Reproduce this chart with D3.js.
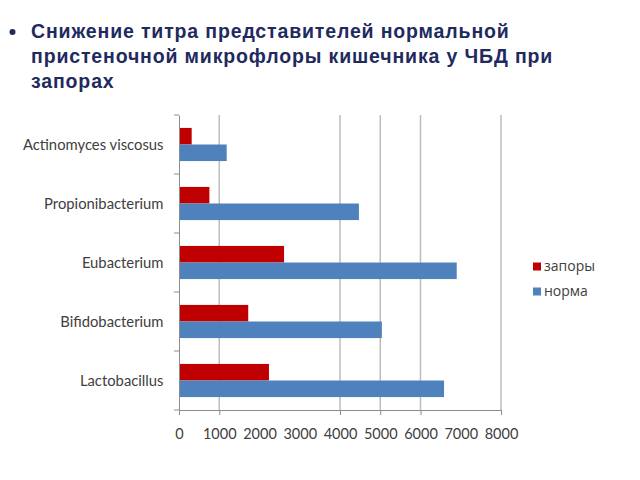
<!DOCTYPE html>
<html><head><meta charset="utf-8">
<script src="https://cdn.jsdelivr.net/npm/d3@7"></script>
<style>body{margin:0;background:#fff}svg{display:block}</style>
</head><body>
<svg id="c" width="640" height="480"></svg>
<script>
const categories = ["Actinomyces viscosus","Propionibacterium","Eubacterium","Bifidobacterium","Lactobacillus"];
const seriesNames = ["запоры","норма"];
const zapory = [315, 755, 2610, 1720, 2235];
const norma = [1185, 4470, 6900, 5040, 6585];
const xTicks = [0,1000,2000,3000,4000,5000,6000,7000,8000];
const gridTicks = [1000,4000,5000,6000,8000];
const titleLines = ["Снижение титра представителей нормальной","пристеночной микрофлоры кишечника у ЧБД при","запорах"];
const colors = ["#C00000","#4F81BD"];

(function(){
const svg = d3.select("#c");
const pl = 179, pr = 501, pt = 115, pb = 410;
const x = d3.scaleLinear().domain([0,8000]).range([pl,pr]);
const y = d3.scaleBand().domain(categories).range([pt,pb]);
const inner = d3.scaleBand().domain(seriesNames).range([0,y.bandwidth()]).paddingInner(0).paddingOuter(0.78);

// title
svg.append("circle").attr("cx",12.5).attr("cy",32).attr("r",3).attr("fill","#1F2A5E");
svg.selectAll("text.title").data(titleLines).enter().append("text")
  .attr("x",31).attr("y",(d,i)=>38+i*25)
  .attr("font-family","Liberation Sans, Arial, sans-serif").attr("font-weight","bold")
  .attr("font-size",19.5).attr("letter-spacing",0.85).attr("fill","#1F2A5E").text(d=>d);

// grid
svg.append("g").selectAll("line").data(gridTicks).enter().append("line")
  .attr("x1",d=>x(d)).attr("x2",d=>x(d)).attr("y1",pt).attr("y2",pb)
  .attr("stroke","#BDBDBD").attr("stroke-width",1.5);

// bars
const data = categories.map((c,i)=>({c, vals:[zapory[i],norma[i]]}));
const g = svg.append("g");
data.forEach(d=>{
  d.vals.forEach((v,j)=>{
    g.append("rect").attr("x",x(0)).attr("y",y(d.c)+inner(seriesNames[j]))
      .attr("width",x(v)-x(0)).attr("height",inner.bandwidth()).attr("fill",colors[j]);
  });
});

// x axis
const xa = svg.append("g").attr("transform",`translate(0,${pb})`)
  .call(d3.axisBottom(x).tickValues(xTicks).tickSize(5).tickFormat(d3.format("d")));
xa.select(".domain").attr("stroke","#8C8C8C");
xa.selectAll(".tick line").attr("stroke","#8C8C8C");
xa.selectAll(".tick text").attr("font-family","Lato, sans-serif").attr("font-size",14.5).attr("fill","#404040").attr("dy","1.45em");
xa.selectAll(".tick").filter(d=>!gridTicks.includes(d) && d!==0).select("line").remove();

// y axis
const ya = svg.append("g").attr("transform",`translate(${pl},0)`)
  .call(d3.axisLeft(y).tickSize(0).tickPadding(15.5));
ya.select(".domain").attr("stroke","#8C8C8C");
ya.selectAll(".tick text").attr("font-family","Lato, sans-serif").attr("font-size",14.8).attr("fill","#404040").attr("dy","0.36em");
const bounds = [...categories.map(c=>y(c)), pb];
ya.append("g").selectAll("line").data(bounds).enter().append("line")
  .attr("x1",-5).attr("x2",0).attr("y1",d=>d).attr("y2",d=>d).attr("stroke","#8C8C8C");

// legend
const lg = svg.append("g");
seriesNames.forEach((s,i)=>{
  lg.append("rect").attr("x",533).attr("y",262.5+i*25).attr("width",8).attr("height",8).attr("fill",colors[i]);
  lg.append("text").attr("x",544).attr("y",271+i*25).attr("font-family","Open Sans, sans-serif")
    .attr("font-size",14).attr("fill","#404040").text(s);
});
})();
</script>
</body></html>
